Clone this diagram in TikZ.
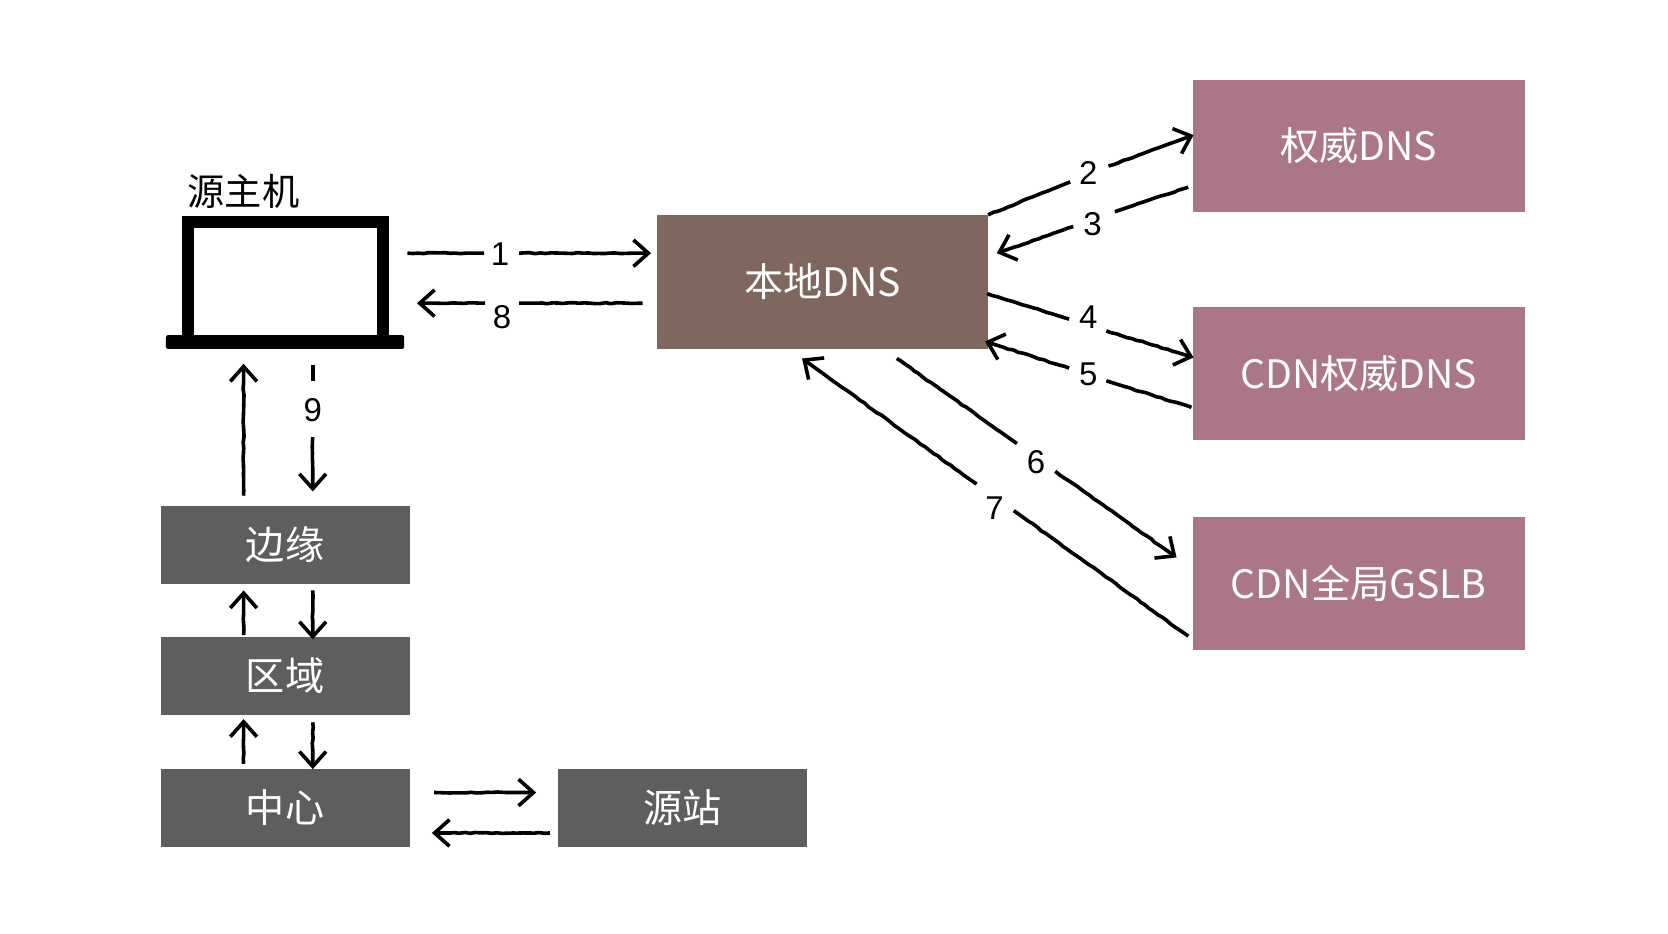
\documentclass[tikz,border=0pt]{standalone}
\usepackage{fontspec}
\setmainfont{Liberation Sans}
\newfontfamily\cjk{Noto Sans CJK SC}
\usetikzlibrary{arrows.meta,decorations.pathmorphing}
\definecolor{localc}{HTML}{7F675E}
\definecolor{authc}{HTML}{AB7787}
\definecolor{cdnc}{HTML}{5E5E5E}
\pgfmathsetseed{42}
\tikzset{
  x=0.5pt,y=-0.5pt,
  boxbase/.style={draw=none,outer sep=0pt,inner sep=0pt,text=white,font=\cjk\fontsize{18.4}{18.4}\selectfont,anchor=north west},
  authbox/.style={boxbase,fill=authc,minimum width=156.3pt,minimum height=62.3pt},
  localbox/.style={boxbase,fill=localc,minimum width=155.7pt,minimum height=63pt},
  cdnbox/.style={boxbase,fill=cdnc,minimum width=117pt,minimum height=36.5pt},
  wire/.style={draw=black,line width=1.7pt,decorate,decoration={random steps,segment length=2.5pt,amplitude=0.25pt,post=lineto,post length=9pt}},
  tipwire/.style={wire,-{Straight Barb[length=7pt,width=12.5pt]}},
  num/.style={inner sep=0pt,font=\fontsize{15.5}{15.5}\selectfont,text=black},
  hostlabel/.style={inner sep=0pt,font=\cjk\fontsize{17.5}{17.5}\selectfont,text=black}
}
\begin{document}
\begin{tikzpicture}
\useasboundingbox (0,0) rectangle (1568,878);
\fill[white] (0,0) rectangle (1568,878);
% boxes
\node[localbox] (local) at (617.5,202) {\raisebox{-0.5pt}{本地DNS}};
\node[authbox] (auth) at (1121,75) {\raisebox{-0.5pt}{权威DNS}};
\node[authbox] (cdnauth) at (1121,288.7) {\raisebox{-0.5pt}{CDN权威DNS}};
\node[authbox] (gslb) at (1121,486) {\raisebox{-0.5pt}{CDN全局GSLB}};
\node[cdnbox] (edge) at (151,475.7) {\raisebox{-0.5pt}{边缘}};
\node[cdnbox] (region) at (151,598.7) {\raisebox{-0.5pt}{区域}};
\node[cdnbox] (center) at (151,723) {\raisebox{-0.5pt}{中心}};
\node[cdnbox] (origin) at (524.5,723) {\raisebox{-0.5pt}{源站}};
% laptop
\node[hostlabel] (hostname) at (229,180) {源主机};
\node[draw=black,line width=5.5pt,outer sep=0pt,minimum width=91.9pt,minimum height=56pt,inner sep=0pt,anchor=north west] (screen) at (176.5,208.5) {};
\node[fill=black,rounded corners=1pt,outer sep=0pt,minimum width=112pt,minimum height=6.5pt,inner sep=0pt,anchor=north west] (base) at (156,315) {};
% labels
\node[num] (n1) at (470,239) {1};
\node[num] (n8) at (472,298) {8};
\node[num] (n9) at (294,386) {9};
\node[num] (n2) at (1023,163) {2};
\node[num] (n3) at (1027,211) {3};
\node[num] (n4) at (1023,298) {4};
\node[num] (n5) at (1023,352) {5};
\node[num] (n6) at (974,434) {6};
\node[num] (n7) at (935,478) {7};
% free ends
\coordinate (a1) at (383,238); \coordinate (g1a) at (455,238); \coordinate (g1b) at (488,238); \coordinate (b1) at (612,238);
\coordinate (a8) at (604,285); \coordinate (g8a) at (488,285); \coordinate (g8b) at (456,285); \coordinate (b8) at (392,285);
\coordinate (a9) at (294,343); \coordinate (g9a) at (294,358); \coordinate (g9b) at (294,411); \coordinate (b9) at (294,462);
\coordinate (g2a) at (1006,171); \coordinate (g2b) at (1042,156); \coordinate (b2) at (1122,127);
\coordinate (a3) at (1117,176); \coordinate (g3a) at (1048,199); \coordinate (g3b) at (1009,213); \coordinate (b3) at (937,238);
\coordinate (a4) at (928,276); \coordinate (g4a) at (1005,300); \coordinate (g4b) at (1040,311); \coordinate (b4) at (1122,336);
\coordinate (a5) at (1120,383); \coordinate (g5a) at (1040,358); \coordinate (g5b) at (1005,346); \coordinate (b5) at (926,321);
\coordinate (a6) at (843,337); \coordinate (g6a) at (956,417); \coordinate (g6b) at (992,443); \coordinate (b6) at (1106,524);
\coordinate (a7) at (1117,598); \coordinate (g7a) at (953,480); \coordinate (g7b) at (918,455); \coordinate (b7) at (754,337);
\coordinate (u1a) at (229,466); \coordinate (u1b) at (229,342);
\coordinate (u2a) at (229,597); \coordinate (u2b) at (229,555);
\coordinate (d2a) at (294,555); \coordinate (d2b) at (294,601);
\coordinate (u3a) at (229,718); \coordinate (u3b) at (229,676);
\coordinate (d3a) at (294,679); \coordinate (d3b) at (294,723);
\coordinate (o1a) at (408,745); \coordinate (o1b) at (504,745);
\coordinate (o2a) at (517,783); \coordinate (o2b) at (406,783);
% connectors
\draw[wire] (a1) -- (g1a); \draw[tipwire] (g1b) -- (b1);
\draw[wire] (a8) -- (g8a); \draw[tipwire] (g8b) -- (b8);
\draw[wire] (a9) -- (g9a); \draw[tipwire] (g9b) -- (b9);
\draw[wire] (local.north east) -- (g2a); \draw[tipwire] (g2b) -- (b2);
\draw[wire] (a3) -- (g3a); \draw[tipwire] (g3b) -- (b3);
\draw[wire] (a4) -- (g4a); \draw[tipwire] (g4b) -- (b4);
\draw[wire] (a5) -- (g5a); \draw[tipwire] (g5b) -- (b5);
\draw[wire] (a6) -- (g6a); \draw[tipwire] (g6b) -- (b6);
\draw[wire] (a7) -- (g7a); \draw[tipwire] (g7b) -- (b7);
\draw[tipwire] (u1a) -- (u1b);
\draw[tipwire] (u2a) -- (u2b);
\draw[tipwire] (d2a) -- (d2b);
\draw[tipwire] (u3a) -- (u3b);
\draw[tipwire] (d3a) -- (d3b);
\draw[tipwire] (o1a) -- (o1b);
\draw[tipwire] (o2a) -- (o2b);
\end{tikzpicture}
\end{document}
